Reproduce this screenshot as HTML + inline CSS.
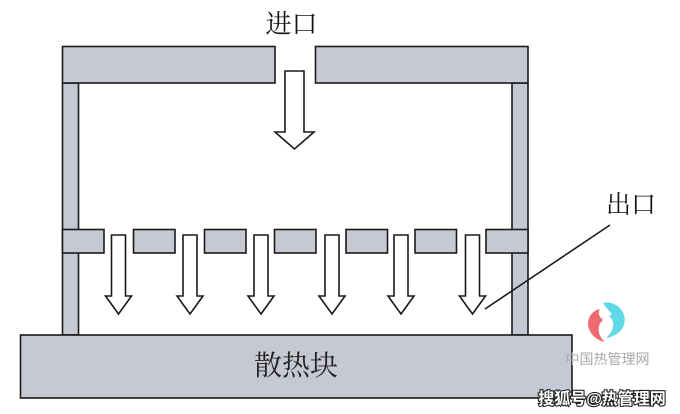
<!DOCTYPE html>
<html>
<head>
<meta charset="utf-8">
<style>
html,body{margin:0;padding:0;background:#fff;}
svg{display:block;}
.serif{font-family:"Liberation Serif","Noto Serif CJK SC","Noto Sans CJK SC",serif;}
.sans{font-family:"Liberation Sans","Noto Sans CJK SC",sans-serif;}
</style>
</head>
<body>
<svg width="680" height="414" viewBox="0 0 680 414" xmlns="http://www.w3.org/2000/svg">
  <rect x="0" y="0" width="680" height="414" fill="#ffffff"/>
  <g fill="#c6c8d3" stroke="#1a1a1a" stroke-width="1.6">
    <!-- walls -->
    <rect x="62.5" y="83" width="16" height="252"/>
    <rect x="512" y="83" width="16" height="252"/>
    <!-- top plates -->
    <rect x="62.5" y="46.5" width="212.5" height="36.5"/>
    <rect x="315.5" y="46.5" width="212.5" height="36.5"/>
    <!-- baffles -->
    <rect x="62.5" y="229.5" width="41.5" height="23.5"/>
    <rect x="133.5" y="229.5" width="41.5" height="23.5"/>
    <rect x="204.5" y="229.5" width="41.5" height="23.5"/>
    <rect x="274.5" y="229.5" width="41.5" height="23.5"/>
    <rect x="346" y="229.5" width="41.5" height="23.5"/>
    <rect x="415" y="229.5" width="41.5" height="23.5"/>
    <rect x="486" y="229.5" width="42" height="23.5"/>
    <!-- heat sink -->
    <rect x="20.5" y="335" width="551.5" height="63"/>
  </g>
  <!-- inlet arrow -->
  <polygon points="285,71 304,71 304,132 314,132 294.5,149 275,132 285,132" fill="#fff" stroke="#1a1a1a" stroke-width="1.6"/>
  <!-- outlet arrows -->
  <g fill="#fff" stroke="#1a1a1a" stroke-width="1.6">
    <polygon points="111.5,235 125.5,235 125.5,296 131.5,296 118.5,314 105.5,296 111.5,296"/>
    <polygon points="183,235 197,235 197,296 203,296 190,314 177,296 183,296"/>
    <polygon points="254,235 268,235 268,296 274,296 261,314 248,296 254,296"/>
    <polygon points="325,235 339,235 339,296 345,296 332,314 319,296 325,296"/>
    <polygon points="394,235 408,235 408,296 414,296 401,314 388,296 394,296"/>
    <polygon points="465.5,235 479.5,235 479.5,296 485.5,296 472.5,314 459.5,296 465.5,296"/>
  </g>
  <!-- outlet leader -->
  <line x1="610" y1="225" x2="485" y2="309" stroke="#1a1a1a" stroke-width="1.6"/>
  <!-- labels -->
  <text class="serif" x="291.5" y="33" font-size="26" text-anchor="middle" fill="#111">进口</text>
  <text class="serif" x="631" y="213" font-size="25" text-anchor="middle" fill="#111">出口</text>
  <text class="serif" x="296" y="375" font-size="28" text-anchor="middle" fill="#222">散热块</text>
  <!-- watermark logo -->
  <g>
    <path d="M600,309 C590,311 585,322 590,331 C593,337 599,341 605,342 C598,336 596,326 603,320 C598,316 598,312 600,309 Z" fill="#ee6a70"/>
    <path d="M603,303 C616,300 628,312 624,325 C621,333 613,337 606,338 C614,331 616,322 609,316 L612,314 C608,310 605,306 603,303 Z" fill="#5fd9e6"/>
  </g>
  <text class="sans" x="607.5" y="364" font-size="14" text-anchor="middle" fill="#a8a8a8">中国热管理网</text>
  <text class="sans" x="602" y="404" font-size="16" text-anchor="middle" fill="#ffffff" stroke="#222" stroke-width="2.2" paint-order="stroke" font-weight="bold">搜狐号@热管理网</text>
</svg>
</body>
</html>
